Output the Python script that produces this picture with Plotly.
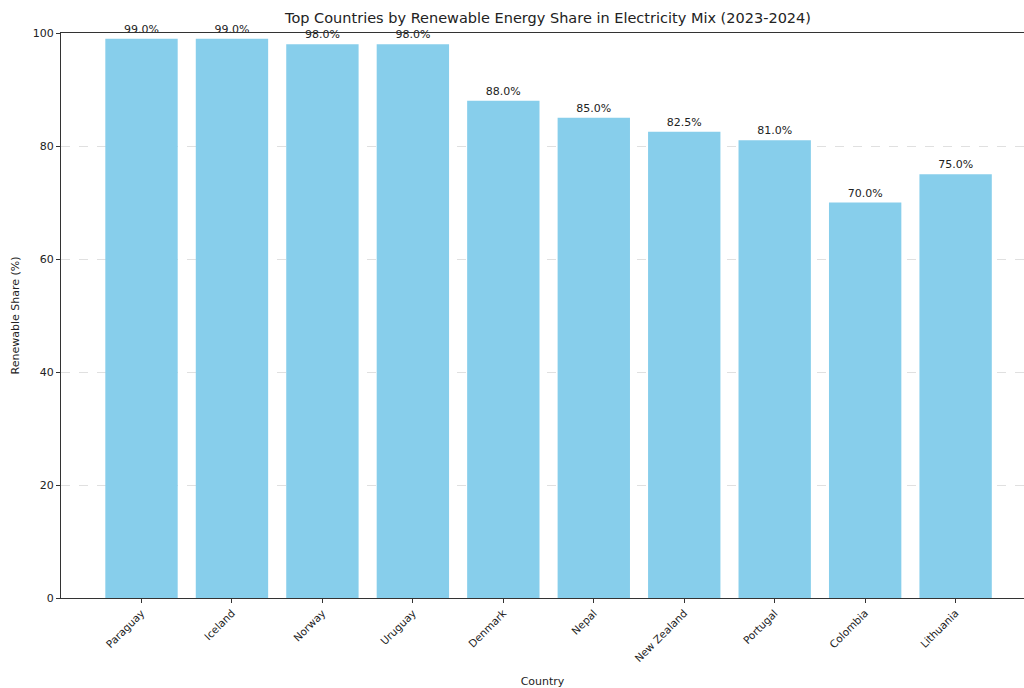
import plotly.graph_objects as go

countries = ["Paraguay", "Iceland", "Norway", "Uruguay", "Denmark", "Nepal",
             "New Zealand", "Portugal", "Colombia", "Lithuania"]
shares = [99.0, 99.0, 98.0, 98.0, 88.0, 85.0, 82.5, 81.0, 70.0, 75.0]
labels = [f"{v:.1f}%" for v in shares]
y_ticks = [0, 20, 40, 60, 80, 100]

W, H = 1024, 688
L, T, B = 60.5, 33, 90

fig = go.Figure(go.Bar(
    x=list(range(len(countries))), y=shares,
    marker=dict(color="#87CEEB", line=dict(width=0)),
    width=0.8,
    text=labels, textposition="outside", cliponaxis=False,
    textfont=dict(family="DejaVu Sans", size=11, color="#222222"),
))

fig.update_layout(
    width=W, height=H,
    margin=dict(l=L, r=0, t=T, b=B, pad=0, autoexpand=False),
    paper_bgcolor="white", plot_bgcolor="white",
    font=dict(family="DejaVu Sans", size=11, color="#222222"),
    showlegend=False,
    title=dict(text="Top Countries by Renewable Energy Share in Electricity Mix (2023-2024)",
               x=548 / W, xref="container", xanchor="center",
               y=1 - 18 / H, yref="container", yanchor="middle",
               font=dict(family="DejaVu Sans", size=14.5, color="#222222")),
)

fig.update_xaxes(
    range=[-0.89, 9.756], automargin=False,
    tickmode="array", tickvals=list(range(len(countries))), ticktext=countries,
    tickangle=-45, ticks="outside", ticklen=4, tickcolor="#333333",
    showline=True, linecolor="#333333", linewidth=1, mirror=True,
    showgrid=False, zeroline=False,
    title=dict(text="Country", standoff=14, font=dict(size=11)),
    tickfont=dict(size=10.5),
)
fig.update_yaxes(
    range=[0, 100], automargin=False,
    tickmode="array", tickvals=y_ticks,
    ticks="outside", ticklen=4, tickcolor="#333333",
    showline=True, linecolor="#333333", linewidth=1,
    showgrid=True, gridcolor="#e0e0e0", griddash="dash", gridwidth=1,
    zeroline=False,
    title=dict(text="Renewable Share (%)", standoff=10, font=dict(size=11)),
    tickfont=dict(size=11),
)

fig.write_html(
    "out.html",
    config={"displayModeBar": False},
    post_script="document.body.style.margin='0';document.documentElement.style.overflow='hidden';",
)
